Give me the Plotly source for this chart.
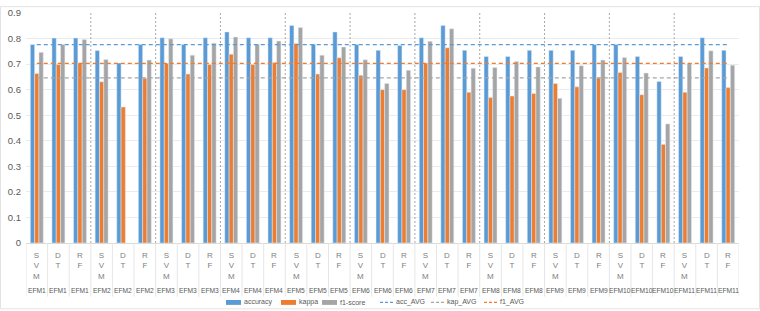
import plotly.graph_objects as go

efms = ["EFM1", "EFM2", "EFM3", "EFM4", "EFM5", "EFM6", "EFM7", "EFM8", "EFM9", "EFM10", "EFM11"]
models = ["SVM", "DT", "RF"]

accuracy = [0.777, 0.802, 0.802, 0.753, 0.704, 0.777, 0.803, 0.777, 0.803, 0.826, 0.803, 0.803,
            0.851, 0.778, 0.826, 0.777, 0.754, 0.773, 0.803, 0.851, 0.754, 0.730, 0.730, 0.754,
            0.754, 0.754, 0.777, 0.777, 0.730, 0.632, 0.730, 0.803, 0.754]
kappa = [0.663, 0.698, 0.704, 0.631, 0.532, 0.645, 0.703, 0.661, 0.698, 0.739, 0.698, 0.706,
         0.781, 0.661, 0.725, 0.656, 0.600, 0.600, 0.704, 0.764, 0.590, 0.569, 0.575, 0.585,
         0.624, 0.611, 0.646, 0.667, 0.580, 0.386, 0.590, 0.685, 0.608]
f1_score = [0.746, 0.777, 0.796, 0.718, None, 0.716, 0.799, 0.735, 0.782, 0.806, 0.778, 0.790,
            0.843, 0.735, 0.767, 0.717, 0.624, 0.676, 0.789, 0.838, 0.684, 0.687, 0.710, 0.689,
            0.566, 0.694, 0.716, 0.726, 0.665, 0.466, 0.702, 0.752, 0.696]
acc_avg = 0.776
kap_avg = 0.646
f1_avg = 0.703

categories = [(e, m) for e in efms for m in models]
n = len(categories)
xpos = list(range(n))

C_ACC = "#5B9BD5"
C_KAP = "#ED7D31"
C_F1 = "#A5A5A5"
TXT = "#595959"
FONT = "Liberation Sans, Arial"

# plot-area geometry in pixels (for placing the hand-made legend)
L, R, T, B = 26, 739, 7, 243
W, H = R - L, B - T


def px(xp):
    return (xp - L) / W


def py(yp):
    return (B - yp) / H


fig = go.Figure()
fig.add_trace(go.Bar(x=xpos, y=accuracy, name="accuracy", marker_color=C_ACC))
fig.add_trace(go.Bar(x=xpos, y=kappa, name="kappa", marker_color=C_KAP))
fig.add_trace(go.Bar(x=xpos, y=f1_score, name="f1-score", marker_color=C_F1))
fig.add_trace(go.Scatter(x=[xpos[0], xpos[-1]], y=[acc_avg, acc_avg], mode="lines", name="acc_AVG",
                         line=dict(color=C_ACC, dash="4px,3px", width=1.3)))
fig.add_trace(go.Scatter(x=[xpos[0], xpos[-1]], y=[kap_avg, kap_avg], mode="lines", name="kap_AVG",
                         line=dict(color=C_F1, dash="4px,3px", width=1.3)))
fig.add_trace(go.Scatter(x=[xpos[0], xpos[-1]], y=[f1_avg, f1_avg], mode="lines", name="f1_AVG",
                         line=dict(color=C_KAP, dash="4px,3px", width=1.3)))

shapes = []
# cell borders in the category label area
for i in range(n + 1):
    shapes.append(dict(type="line", xref="x", yref="paper", x0=i - 0.5, x1=i - 0.5,
                       y0=0, y1=py(298), line=dict(color="#E6E6E6", width=1)))
# group separators
for g in range(1, len(efms)):
    xb = g * len(models) - 0.5
    shapes.append(dict(type="line", xref="x", yref="y", x0=xb, x1=xb, y0=0, y1=0.9,
                       line=dict(color="#A8A8A8", width=1, dash="2px,2px")))
# outer border
shapes.append(dict(type="rect", xref="paper", yref="paper",
                   x0=px(0.5), x1=px(759.5), y0=py(310.5), y1=py(0.5),
                   line=dict(color="#E3E3E3", width=1)))

annotations = []
for i, (e, m) in enumerate(categories):
    annotations.append(dict(x=i, y=py(249), xref="x", yref="paper", text="<br>".join(list(m)),
                            showarrow=False, yanchor="top", xanchor="center",
                            font=dict(size=8, color="#808080", family=FONT)))
    annotations.append(dict(x=i, y=py(292), xref="x", yref="paper", text=e,
                            showarrow=False, yanchor="middle", xanchor="center",
                            font=dict(size=6.7, color=TXT, family=FONT)))

# hand-made legend (Excel style)
LEG_Y = 304
legend_bars = [("accuracy", C_ACC, 226), ("kappa", C_KAP, 281), ("f1-score", C_F1, 322)]
for name, col, x0 in legend_bars:
    shapes.append(dict(type="rect", xref="paper", yref="paper", x0=px(x0), x1=px(x0 + 15),
                       y0=py(LEG_Y + 2.5), y1=py(LEG_Y - 2.5), line=dict(width=0), fillcolor=col))
    annotations.append(dict(x=px(x0 + 16), y=py(LEG_Y), xref="paper", yref="paper", text=name,
                            showarrow=False, xanchor="left", yanchor="middle",
                            font=dict(size=7, color=TXT, family=FONT)))
legend_lines = [("acc_AVG", C_ACC, 380), ("kap_AVG", C_F1, 431), ("f1_AVG", C_KAP, 484)]
for name, col, x0 in legend_lines:
    shapes.append(dict(type="line", xref="paper", yref="paper", x0=px(x0), x1=px(x0 + 13),
                       y0=py(LEG_Y), y1=py(LEG_Y), line=dict(color=col, width=1.3, dash="3px,2px")))
    annotations.append(dict(x=px(x0 + 14), y=py(LEG_Y), xref="paper", yref="paper", text=name,
                            showarrow=False, xanchor="left", yanchor="middle",
                            font=dict(size=7, color=TXT, family=FONT)))

fig.update_layout(
    width=760, height=311,
    margin=dict(l=L, r=760 - R, t=T, b=311 - B),
    paper_bgcolor="white", plot_bgcolor="white",
    barmode="group", bargap=0.4, bargroupgap=0,
    font=dict(family="Liberation Sans", color=TXT, size=9),
    showlegend=False,
    shapes=shapes,
    annotations=annotations,
)
fig.update_xaxes(range=[-0.5, n - 0.5], showticklabels=False, showgrid=False, zeroline=False,
                 showline=True, linecolor="#D9D9D9", ticks="")
fig.update_yaxes(range=[0, 0.9], dtick=0.1, showgrid=True, gridcolor="#EBEBEB",
                 zeroline=False, showline=False, tickfont=dict(size=9.5, color=TXT), ticks="",
                 ticklabelstandoff=4)

fig.write_html("out.html")
